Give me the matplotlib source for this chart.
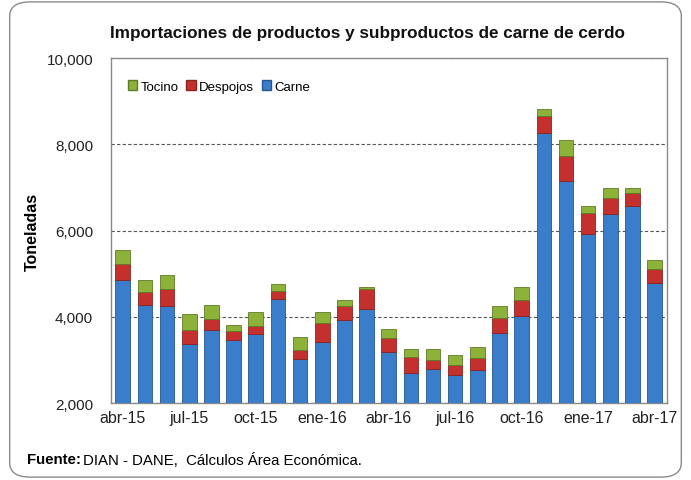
import numpy as np
import matplotlib.pyplot as plt
from matplotlib.patches import FancyBboxPatch, Patch

plt.rcParams['font.family'] = ['Liberation Sans', 'DejaVu Sans']

meses = ['abr-15', 'may-15', 'jun-15', 'jul-15', 'ago-15', 'sep-15', 'oct-15',
         'nov-15', 'dic-15', 'ene-16', 'feb-16', 'mar-16', 'abr-16', 'may-16',
         'jun-16', 'jul-16', 'ago-16', 'sep-16', 'oct-16', 'nov-16', 'dic-16',
         'ene-17', 'feb-17', 'mar-17', 'abr-17']

# toneladas
carne = [4845, 4284, 4245, 3360, 3691, 3460, 3591, 4416, 3030, 3423, 3915,
         4185, 3191, 2691, 2799, 2644, 2767, 3614, 4014, 8263, 7148, 5924,
         6379, 6577, 4785]
despojos = [386, 293, 402, 331, 270, 208, 192, 175, 192, 438, 330,
            462, 308, 376, 199, 231, 270, 363, 386, 386, 584, 478,
            369, 287, 324]
tocino = [323, 284, 323, 385, 316, 138, 332, 178, 316, 254, 155,
          37, 208, 178, 247, 238, 270, 284, 284, 178, 379, 168,
          245, 129, 207]

base = 2000
carne = np.array(carne)
despojos = np.array(despojos)
tocino = np.array(tocino)

fig = plt.figure(figsize=(6.91, 4.81), dpi=100)
ax = fig.add_axes([0.160, 0.160, 0.805, 0.717])

x = np.arange(len(meses))
w = 0.66
c_blue, c_red, c_green = '#3A7DCB', '#C4302D', '#8DB23A'

ax.bar(x, carne - base, w, bottom=base, color=c_blue, edgecolor='#25578f', linewidth=0.6, zorder=3)
ax.bar(x, despojos, w, bottom=carne, color=c_red, edgecolor='#8c2220', linewidth=0.6, zorder=3)
ax.bar(x, tocino, w, bottom=carne + despojos, color=c_green, edgecolor='#5f7a25', linewidth=0.6, zorder=3)

ax.set_ylim(2000, 10000)
ax.set_xlim(-0.55, len(meses) - 0.45)
ax.set_yticks([2000, 4000, 6000, 8000, 10000])
ax.set_yticklabels(['2,000', '4,000', '6,000', '8,000', '10,000'], fontsize=11, color='#222222')
ax.set_xticks(x[::3])
ax.set_xticklabels(meses[::3], fontsize=11.5, color='#222222')
ax.tick_params(axis='y', length=0, pad=12.5)
ax.tick_params(axis='x', length=0, pad=5)
ax.yaxis.grid(True, linestyle=(0, (3, 2)), color='#555555', linewidth=0.8, zorder=0)
for s in ax.spines.values():
    s.set_color('#8a8a8a')
    s.set_linewidth(1.0)

ax.set_ylabel('Toneladas', fontsize=11.5, fontweight='bold', labelpad=5)

handles = [Patch(facecolor=c_green, edgecolor='#5f7a25'),
           Patch(facecolor=c_red, edgecolor='#8c2220'),
           Patch(facecolor=c_blue, edgecolor='#25578f')]
ax.legend(handles, ['Tocino', 'Despojos', 'Carne'], loc='upper left', ncol=3,
          frameon=False, fontsize=9.5, handlelength=0.7, handleheight=0.7,
          handletextpad=0.25, columnspacing=0.6, bbox_to_anchor=(0.01, 0.97))

fig.text(0.532, 0.93, 'Importaciones de productos y subproductos de carne de cerdo',
         ha='center', va='center', fontsize=12.3, fontweight='bold', color='#111111')
t1 = fig.text(0.039, 0.043, 'Fuente:', ha='left', va='center', fontsize=10.8, fontweight='bold')
fig.canvas.draw()
bb = t1.get_window_extent().transformed(fig.transFigure.inverted())
fig.text(bb.x1 + 0.003, 0.043, 'DIAN - DANE,  Cálculos Área Económica.', ha='left', va='center', fontsize=10.8)

frame = FancyBboxPatch((0.014, 0.006), 0.972, 0.988, boxstyle='round,pad=0,rounding_size=0.03',
                       transform=fig.transFigure, facecolor='none', edgecolor='#8a8a8a', linewidth=1.0)
fig.patches.append(frame)

fig.savefig('out.png', dpi=100)
